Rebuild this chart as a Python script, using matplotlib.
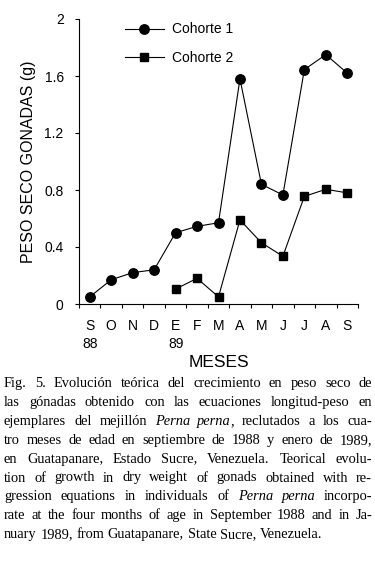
import re
import matplotlib
matplotlib.use("Agg")
import matplotlib.pyplot as plt
import numpy as np

# data
months = ["S\n88", "O", "N", "D", "E\n89", "F", "M", "A", "M", "J", "J", "A", "S"]
cohorte1 = [0.05, 0.17, 0.22, 0.24, 0.50, 0.545, 0.57, 1.58, 0.84, 0.765, 1.645, 1.75, 1.62]
cohorte2_start = 4  # E 89
cohorte2 = [0.105, 0.18, 0.05, 0.59, 0.43, 0.335, 0.755, 0.805, 0.78]
yticks = [0, 0.4, 0.8, 1.2, 1.6, 2]
ytick_labels = ["0", "0.4", "0.8", "1.2", "1.6", "2"]

caption = [
    "Fig. 5. Evolución teórica del crecimiento en peso seco de",
    "las gónadas obtenido con las ecuaciones longitud-peso en",
    "ejemplares del mejillón *Perna* *perna*, reclutados a los cua-",
    "tro meses de edad en septiembre de 1988 y enero de 1989,",
    "en Guatapanare, Estado Sucre, Venezuela. Teorical evolu-",
    "tion of growth in dry weight of gonads obtained with re-",
    "gression equations in individuals of *Perna* *perna* incorpo-",
    "rate at the four months of age in September 1988 and in Ja-",
    "nuary 1989, from Guatapanare, State Sucre, Venezuela.",
]

sans = ["Liberation Sans", "DejaVu Sans"]
serif = ["Liberation Serif", "DejaVu Serif"]
plt.rcParams["font.family"] = sans

W, H = 375, 564
fig = plt.figure(figsize=(W / 100, H / 100), dpi=100)
ax = fig.add_axes([79 / W, 1 - 304 / H, 279 / W, 285 / H])

x1 = np.arange(len(cohorte1))
x2 = np.arange(len(cohorte2)) + cohorte2_start
ax.plot(x1, cohorte1, "-o", color="black", lw=0.8, ms=6.8, label="Cohorte 1", clip_on=False)
ax.plot(x2, cohorte2, "-s", color="black", lw=0.8, ms=6.3, label="Cohorte 2", clip_on=False)

ax.set_xlim(-0.5, len(months) - 0.5)
ax.set_ylim(0, 2)
ax.set_xticks(np.arange(-0.5, len(months), 1.0))
ax.set_xticklabels([])
ax.set_xticks(np.arange(len(months)), minor=True)
ax.set_xticklabels(months, minor=True, fontsize=10, linespacing=1.3)
ax.tick_params(axis="x", which="minor", length=0, pad=11)
ax.tick_params(axis="x", which="major", length=3, width=0.8, direction="out")
ax.set_yticks(yticks)
ax.set_yticklabels(ytick_labels, fontsize=10)
ax.tick_params(axis="y", length=3, width=0.8, pad=8)

for s in ["top", "right"]:
    ax.spines[s].set_visible(False)
for s in ["left", "bottom"]:
    ax.spines[s].set_linewidth(0.8)

ax.set_xlabel("MESES", fontsize=12.5, labelpad=3)
ax.set_ylabel("PESO SECO GONADAS (g)", fontsize=11.5, labelpad=6)

ax.legend(loc="upper left", bbox_to_anchor=(0.165, 0.988), frameon=False,
          handlelength=2.8, handletextpad=0.6, labelspacing=1.05,
          borderpad=0, borderaxespad=0, fontsize=10)

# justified caption
fig.canvas.draw()
r = fig.canvas.get_renderer()


def measure(s, italic):
    t = fig.text(0, 0, s, family=serif, fontsize=10.4,
                 style="italic" if italic else "normal")
    w = t.get_window_extent(r).width
    t.remove()
    return w


space_w = measure("a a", False) - measure("aa", False)
left, right = 4, 372
base0, step = 387, 18.9
for i, line in enumerate(caption):
    words = []
    for w in line.split(" "):
        segs = [(p.strip("*"), p.startswith("*")) for p in re.split(r"(\*[^*]+\*)", w) if p]
        words.append([(s, it, measure(s, it) - (1.0 if it else 0)) for s, it in segs])
    widths = [sum(seg[2] for seg in w) for w in words]
    if i < len(caption) - 1:
        gap = (right - left - sum(widths)) / (len(words) - 1)
    else:
        gap = space_w
    x = left
    y = 1 - (base0 + i * step) / H
    for w, wd in zip(words, widths):
        xx = x
        for s, it, sw in w:
            fig.text(xx / W, y, s, family=serif, fontsize=10.4, va="baseline",
                     style="italic" if it else "normal")
            xx += sw
        x += wd + gap

fig.savefig("out.png", dpi=100)
